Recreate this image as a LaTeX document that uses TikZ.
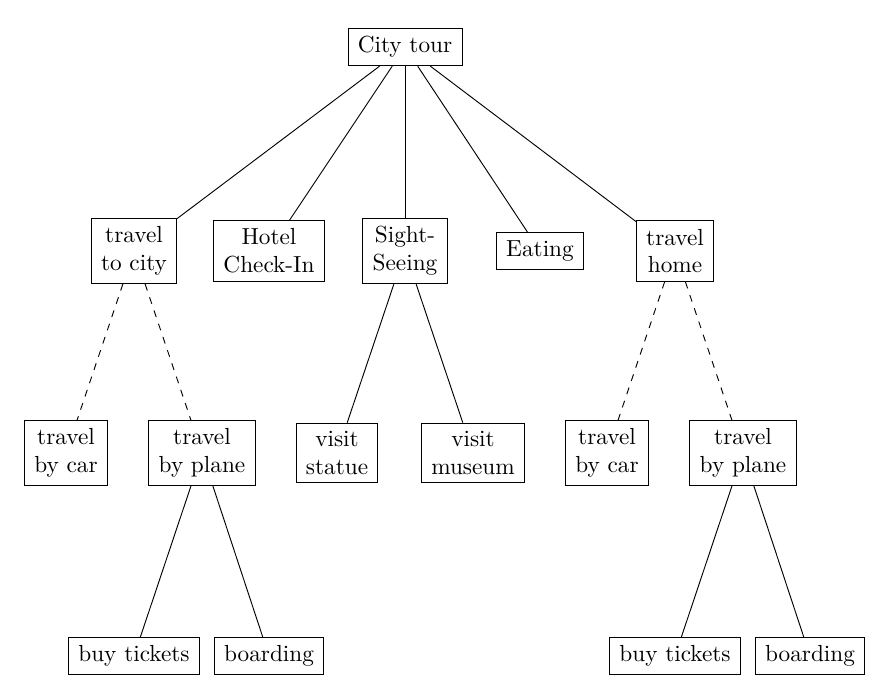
\documentclass[tikz,border=0pt]{standalone}
\begin{document}
\begin{tikzpicture}[x=0.43pt,y=-0.43pt,
  box/.style={draw, align=center, font=\normalsize, inner xsep=4.2pt, inner ysep=3.5pt},
  link/.style={draw, line width=0.4pt},
  dlink/.style={draw, dashed, line width=0.4pt}]
\useasboundingbox (0,0) rectangle (884,690);
\node[box] (root) at (405,47) {City tour};
\node[box] (tc) at (134,251) {travel\\to city};
\node[box] (hc) at (269,251) {Hotel\\Check-In};
\node[box] (ss) at (405,251) {Sight-\\Seeing};
\node[box] (ea) at (540,251) {Eating};
\node[box] (th) at (675,251) {travel\\home};
\node[box] (car1) at (66,453) {travel\\by car};
\node[box] (pl1) at (202,453) {travel\\by plane};
\node[box] (vs) at (337,453) {visit\\statue};
\node[box] (vm) at (473,453) {visit\\museum};
\node[box] (car2) at (607,453) {travel\\by car};
\node[box] (pl2) at (743,453) {travel\\by plane};
\node[box] (bt1) at (134,656) {buy tickets};
\node[box] (bo1) at (269,656) {boarding};
\node[box] (bt2) at (675,656) {buy tickets};
\node[box] (bo2) at (810,656) {boarding};
\path[link] (root) -- (tc);
\path[link] (root) -- (hc);
\path[link] (root) -- (ss);
\path[link] (root) -- (ea);
\path[link] (root) -- (th);
\path[dlink] (tc) -- (car1);
\path[dlink] (tc) -- (pl1);
\path[link] (ss) -- (vs);
\path[link] (ss) -- (vm);
\path[dlink] (th) -- (car2);
\path[dlink] (th) -- (pl2);
\path[link] (pl1) -- (bt1);
\path[link] (pl1) -- (bo1);
\path[link] (pl2) -- (bt2);
\path[link] (pl2) -- (bo2);
\end{tikzpicture}
\end{document}
